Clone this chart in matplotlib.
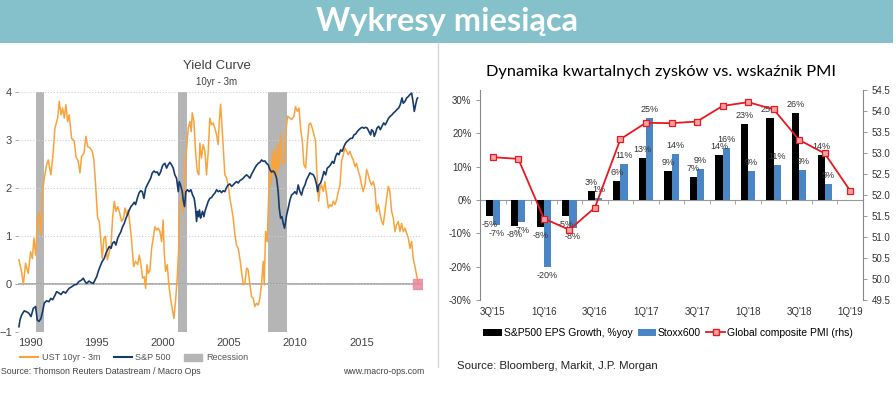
import numpy as np
import matplotlib
matplotlib.use('Agg')
import matplotlib.pyplot as plt
from matplotlib.patches import Rectangle, Patch
from matplotlib.lines import Line2D

plt.rcParams['font.family'] = ['Liberation Sans', 'DejaVu Sans']
NARROW = ['Liberation Sans Narrow', 'Liberation Sans', 'DejaVu Sans']
CALIBRI = ['Lato', 'DejaVu Sans']

# ---- lewy wykres: krzywa rentownosci ----
ust_years = [1989.17, 1989.37, 1989.50, 1989.67, 1989.87, 1990.05, 1990.18, 1990.30, 1990.43, 1990.58,
             1990.70, 1990.83, 1990.93, 1991.08, 1991.26, 1991.38, 1991.58, 1991.76, 1991.88, 1992.09,
             1992.21, 1992.34, 1992.46, 1992.59, 1992.71, 1992.84, 1992.96, 1993.14, 1993.34, 1993.47,
             1993.64, 1993.77, 1993.89, 1994.07, 1994.22, 1994.35, 1994.52, 1994.70, 1994.82, 1994.95,
             1995.10, 1995.23, 1995.35, 1995.45, 1995.58, 1995.70, 1995.83, 1995.98, 1996.11, 1996.23,
             1996.36, 1996.48, 1996.61, 1996.73, 1996.91, 1997.06, 1997.16, 1997.29, 1997.41, 1997.54,
             1997.66, 1997.81, 1997.96, 1998.12, 1998.24, 1998.37, 1998.49, 1998.62, 1998.72, 1998.82,
             1998.92, 1999.04, 1999.17, 1999.29, 1999.42, 1999.55, 1999.67, 1999.80, 1999.92, 2000.04,
             2000.12, 2000.22, 2000.35, 2000.47, 2000.60, 2000.72, 2000.85, 2000.97, 2001.10, 2001.20,
             2001.30, 2001.43, 2001.55, 2001.68, 2001.80, 2001.93, 2002.06, 2002.16, 2002.23, 2002.36,
             2002.48, 2002.61, 2002.73, 2002.81, 2002.93, 2003.06, 2003.19, 2003.31, 2003.44, 2003.56,
             2003.69, 2003.81, 2003.94, 2004.07, 2004.19, 2004.27, 2004.37, 2004.47, 2004.57, 2004.69,
             2004.82, 2004.94, 2005.07, 2005.20, 2005.32, 2005.45, 2005.57, 2005.70, 2005.82, 2005.95,
             2006.08, 2006.20, 2006.33, 2006.45, 2006.58, 2006.70, 2006.83, 2006.95, 2007.08, 2007.21,
             2007.33, 2007.46, 2007.58, 2007.66, 2007.76, 2007.88, 2007.98, 2008.08, 2008.18, 2008.29,
             2008.39, 2008.49, 2008.59, 2008.69, 2008.79, 2008.91, 2009.04, 2009.17, 2009.29, 2009.42,
             2009.60, 2009.72, 2009.90, 2010.02, 2010.15, 2010.28, 2010.40, 2010.53, 2010.65, 2010.78,
             2010.90, 2011.03, 2011.15, 2011.28, 2011.41, 2011.53, 2011.61, 2011.68, 2011.76, 2011.86,
             2011.98, 2012.11, 2012.23, 2012.36, 2012.49, 2012.61, 2012.74, 2012.86, 2012.99, 2013.11,
             2013.24, 2013.37, 2013.49, 2013.62, 2013.74, 2013.87, 2014.00, 2014.12, 2014.25, 2014.37,
             2014.50, 2014.62, 2014.75, 2014.87, 2015.00, 2015.12, 2015.25, 2015.38, 2015.50, 2015.63,
             2015.75, 2015.88, 2016.00, 2016.13, 2016.26, 2016.38, 2016.51, 2016.63, 2016.76, 2016.88,
             2017.01, 2017.13, 2017.26, 2017.39, 2017.51, 2017.64, 2017.76, 2017.89, 2018.01, 2018.14,
             2018.27, 2018.39, 2018.52, 2018.64, 2018.77, 2018.89, 2019.02, 2019.14, 2019.27]
ust_vals = [0.50, 0.26, -0.02, 0.43, 0.22, 0.67, 0.53, 0.95, 0.60, 1.37,
            1.47, 1.02, 1.85, 2.20, 2.48, 2.58, 2.27, 2.76, 3.24, 3.45,
            3.80, 3.52, 3.66, 3.45, 3.73, 3.38, 3.52, 3.03, 2.97, 2.65,
            2.55, 2.31, 2.65, 2.72, 3.07, 2.86, 2.83, 2.76, 2.58, 2.06,
            1.37, 1.30, 0.88, 0.53, 0.95, 0.99, 0.50, 0.67, 0.81, 1.37,
            1.72, 1.51, 1.61, 1.51, 1.30, 1.37, 1.58, 1.44, 1.54, 1.23,
            0.92, 0.36, 0.47, 0.40, 0.60, 0.40, 0.12, 0.15, -0.09, 0.40,
            0.22, 0.28, 0.74, 0.95, 1.19, 1.12, 1.16, 1.09, 0.88, 1.33,
            0.67, 0.26, 0.40, -0.02, -0.30, -0.51, -0.72, -0.37, 0.12, 0.67,
            1.65, 1.78, 1.51, 2.34, 2.76, 3.24, 3.38, 3.17, 3.56, 3.38,
            2.76, 2.34, 2.27, 2.93, 2.62, 2.90, 2.76, 2.27, 2.76, 3.45,
            3.31, 3.35, 3.24, 3.10, 2.90, 3.38, 3.74, 3.31, 2.83, 2.27,
            2.20, 2.06, 1.78, 1.58, 1.37, 1.02, 0.81, 0.74, 0.53, 0.26,
            -0.02, 0.01, 0.33, 0.29, -0.02, -0.26, -0.30, -0.47, -0.40, -0.44,
            -0.30, 0.01, 0.47, -0.02, 1.09, 0.88, 1.72, 2.41, 2.06, 2.76,
            2.27, 2.83, 2.13, 2.90, 2.41, 3.10, 2.48, 2.55, 3.17, 3.49,
            3.45, 3.42, 3.49, 3.69, 3.59, 3.66, 3.24, 2.97, 2.48, 2.41,
            2.90, 3.31, 3.35, 3.24, 3.10, 2.97, 2.41, 2.06, 1.72, 1.99,
            2.06, 1.92, 2.13, 1.85, 1.58, 1.65, 1.61, 1.72, 1.65, 1.75,
            1.92, 2.06, 2.55, 2.69, 2.83, 2.76, 2.69, 2.76, 2.65, 2.58,
            2.44, 2.51, 2.34, 2.24, 2.06, 1.92, 2.06, 2.38, 2.27, 2.13,
            2.06, 2.13, 1.99, 1.51, 1.65, 1.47, 1.30, 1.23, 1.51, 1.78,
            2.03, 1.92, 1.51, 1.37, 1.09, 1.23, 1.30, 1.09, 1.26, 1.09,
            1.16, 1.06, 0.95, 0.74, 0.88, 0.53, 0.36, 0.19, 0.00]

spx_years = [1989.17, 1989.25, 1989.37, 1989.57, 1989.75, 1989.92, 1990.08, 1990.25, 1990.43, 1990.55,
             1990.68, 1990.83, 1990.95, 1991.08, 1991.26, 1991.43, 1991.58, 1991.71, 1991.88, 1992.01,
             1992.19, 1992.34, 1992.51, 1992.69, 1992.84, 1992.96, 1993.14, 1993.34, 1993.52, 1993.69,
             1993.89, 1994.02, 1994.15, 1994.27, 1994.45, 1994.60, 1994.77, 1994.90, 1995.03, 1995.15,
             1995.28, 1995.45, 1995.60, 1995.73, 1995.85, 1995.98, 1996.11, 1996.23, 1996.36, 1996.48,
             1996.61, 1996.73, 1996.86, 1996.98, 1997.11, 1997.24, 1997.36, 1997.49, 1997.61, 1997.74,
             1997.86, 1997.96, 1998.09, 1998.22, 1998.34, 1998.47, 1998.59, 1998.72, 1998.84, 1998.97,
             1999.10, 1999.22, 1999.35, 1999.47, 1999.60, 1999.72, 1999.85, 1999.97, 2000.04, 2000.17,
             2000.30, 2000.42, 2000.55, 2000.67, 2000.80, 2000.92, 2001.05, 2001.18, 2001.25, 2001.35,
             2001.48, 2001.55, 2001.65, 2001.75, 2001.88, 2002.00, 2002.13, 2002.26, 2002.38, 2002.48,
             2002.56, 2002.63, 2002.71, 2002.78, 2002.86, 2002.93, 2003.01, 2003.11, 2003.19, 2003.31,
             2003.44, 2003.56, 2003.69, 2003.81, 2003.94, 2004.07, 2004.19, 2004.32, 2004.44, 2004.57,
             2004.69, 2004.82, 2004.94, 2005.07, 2005.20, 2005.32, 2005.45, 2005.57, 2005.70, 2005.82,
             2005.95, 2006.08, 2006.20, 2006.33, 2006.45, 2006.58, 2006.70, 2006.83, 2006.95, 2007.08,
             2007.21, 2007.33, 2007.46, 2007.58, 2007.71, 2007.83, 2007.96, 2008.08, 2008.21, 2008.34,
             2008.46, 2008.59, 2008.71, 2008.79, 2008.89, 2008.99, 2009.09, 2009.19, 2009.35, 2009.47,
             2009.60, 2009.72, 2009.85, 2009.97, 2010.10, 2010.22, 2010.35, 2010.47, 2010.60, 2010.73,
             2010.85, 2010.98, 2011.10, 2011.23, 2011.36, 2011.48, 2011.61, 2011.68, 2011.78, 2011.91,
             2012.03, 2012.16, 2012.29, 2012.41, 2012.54, 2012.66, 2012.79, 2012.91, 2013.04, 2013.16,
             2013.29, 2013.42, 2013.54, 2013.67, 2013.79, 2013.92, 2014.04, 2014.17, 2014.30, 2014.42,
             2014.55, 2014.67, 2014.80, 2014.92, 2015.05, 2015.17, 2015.30, 2015.43, 2015.55, 2015.68,
             2015.75, 2015.88, 2015.95, 2016.05, 2016.15, 2016.28, 2016.41, 2016.53, 2016.66, 2016.78,
             2016.91, 2017.03, 2017.16, 2017.29, 2017.41, 2017.54, 2017.66, 2017.79, 2017.91, 2018.04,
             2018.14, 2018.27, 2018.39, 2018.52, 2018.64, 2018.77, 2018.87, 2018.97, 2019.07, 2019.17,
             2019.22]
spx_vals = [-0.89, -0.75, -0.65, -0.56, -0.58, -0.61, -0.68, -0.51, -0.47, -0.75,
            -0.78, -0.72, -0.58, -0.40, -0.35, -0.37, -0.30, -0.33, -0.24, -0.16,
            -0.19, -0.22, -0.16, -0.19, -0.13, -0.09, -0.06, -0.02, -0.01, 0.05,
            0.08, 0.12, 0.05, 0.01, 0.06, 0.03, 0.01, 0.08, 0.15, 0.26,
            0.36, 0.47, 0.53, 0.64, 0.71, 0.78, 0.74, 0.85, 0.88, 0.81,
            0.95, 1.02, 1.09, 1.19, 1.26, 1.37, 1.44, 1.54, 1.61, 1.65,
            1.70, 1.65, 1.78, 1.89, 1.94, 1.92, 1.78, 1.99, 2.06, 2.13,
            2.20, 2.31, 2.35, 2.32, 2.33, 2.26, 2.33, 2.44, 2.48, 2.51,
            2.41, 2.48, 2.53, 2.48, 2.41, 2.27, 2.20, 1.92, 2.13, 2.06,
            1.92, 1.75, 1.61, 1.92, 1.96, 1.92, 1.96, 1.85, 1.78, 1.58,
            1.30, 1.51, 1.40, 1.54, 1.37, 1.44, 1.51, 1.40, 1.51, 1.61,
            1.72, 1.78, 1.80, 1.85, 1.89, 1.96, 1.92, 1.94, 1.90, 1.94,
            1.92, 2.01, 2.06, 2.08, 2.03, 2.06, 2.10, 2.13, 2.10, 2.15,
            2.17, 2.20, 2.24, 2.27, 2.24, 2.20, 2.28, 2.35, 2.41, 2.47,
            2.51, 2.53, 2.58, 2.55, 2.56, 2.51, 2.48, 2.38, 2.33, 2.35,
            2.31, 2.20, 1.92, 1.58, 1.37, 1.40, 1.26, 1.16, 1.44, 1.58,
            1.75, 1.85, 1.88, 1.92, 1.87, 2.06, 1.92, 1.85, 1.99, 2.06,
            2.17, 2.24, 2.31, 2.29, 2.27, 2.20, 2.06, 1.92, 2.06, 2.10,
            2.20, 2.34, 2.27, 2.41, 2.44, 2.48, 2.55, 2.51, 2.65, 2.72,
            2.69, 2.79, 2.76, 2.86, 2.93, 2.97, 3.00, 3.03, 3.03, 3.10,
            3.12, 3.17, 3.21, 3.24, 3.26, 3.24, 3.26, 3.24, 3.17, 3.10,
            3.21, 3.17, 3.07, 3.14, 3.24, 3.28, 3.21, 3.28, 3.35, 3.31,
            3.38, 3.45, 3.49, 3.52, 3.56, 3.59, 3.63, 3.66, 3.73, 3.87,
            3.76, 3.80, 3.87, 3.90, 3.94, 3.97, 3.80, 3.59, 3.73, 3.85,
            3.87]

rec_start = [1990.45, 2001.15, 2007.93]
rec_end = [1991.08, 2001.83, 2009.38]
year_ticks = [1990, 1995, 2000, 2005, 2010, 2015]

# ---- prawy wykres: zyski vs PMI ----
quarters = ["3Q'15", "4Q'15", "1Q'16", "2Q'16", "3Q'16", "4Q'16", "1Q'17", "2Q'17",
            "3Q'17", "4Q'17", "1Q'18", "2Q'18", "3Q'18", "4Q'18", "1Q'19"]
sp500_eps = [-4.9, -7.9, -8.2, -4.7, 2.6, 5.6, 12.6, 8.6, 6.8, 13.6, 22.8, 24.6, 26.1, 13.6]
stoxx600_eps = [-7.4, -6.6, -20.0, -8.4, 0.6, 10.8, 24.6, 13.8, 9.2, 15.6, 8.8, 10.6, 9.1, 4.7]
pmi = [52.90, 52.86, 51.44, 51.17, 51.70, 53.33, 53.72, 53.71, 53.75, 54.12, 54.21, 54.04, 53.31, 52.99, 52.10]

ORANGE = '#F9A33B'
NAVY = '#163C6E'
REC = '#B5B5B5'
BLUE = '#4A86C6'
RED = '#E8191F'
PINK = '#F5A3A3'

W, H = 896, 399
fig = plt.figure(figsize=(W / 100, H / 100), dpi=100)


def fx(px):
    return px / W


def fy(py):
    return 1 - py / H


# naglowek
fig.add_artist(Rectangle((0, fy(43)), fx(893), 43 / H, transform=fig.transFigure,
                         facecolor='#85C1CA', edgecolor='none'))
fig.text(fx(447), fy(21), 'Wykresy miesiąca', ha='center', va='center', color='white',
         fontsize=23.5, fontweight='bold', family=CALIBRI)
fig.add_artist(Line2D([fx(437.5), fx(437.5)], [fy(43), fy(367)], transform=fig.transFigure,
                      color='#d8d8d8', lw=1))

# ---- lewy ----
axL = fig.add_axes([fx(18), fy(332), fx(422) - fx(18), (332 - 91.7) / H])
axL.set_xlim(1989.1, 2019.55)
axL.set_ylim(-1, 4)
for s in axL.spines.values():
    s.set_visible(False)
axL.set_yticks([-1, 0, 1, 2, 3, 4])
axL.set_xticks(year_ticks)
axL.grid(axis='y', ls=':', color='#cfcfcf', lw=0.8)
axL.tick_params(axis='y', length=2.5, width=0.6, color='#999999', labelsize=8,
                labelcolor='#444444', pad=2)
axL.tick_params(axis='x', length=0, labelsize=8, labelcolor='#444444', pad=4)
for s, e in zip(rec_start, rec_end):
    axL.axvspan(s, e, color=REC, lw=0, zorder=1)
axL.axhline(0, color='#a8a8a8', lw=1.3, zorder=1.5)
axL.plot(ust_years, ust_vals, color=ORANGE, lw=1.1, zorder=3)
axL.plot(spx_years, spx_vals, color=NAVY, lw=1.2, zorder=4)
axL.plot(ust_years[-1], ust_vals[-1], marker='s', ms=7, color='#E8899A', alpha=0.85, zorder=5)

fig.text(fx(217), fy(66), 'Yield Curve', ha='center', va='center', fontsize=9.5, color='#404040')
fig.text(fx(217), fy(82), '10yr - 3m', ha='center', va='center', fontsize=7, color='#404040')

hL = [Line2D([], [], color=ORANGE, lw=1.5), Line2D([], [], color=NAVY, lw=1.5), Patch(color=REC)]
fig.legend(hL, ['UST 10yr - 3m', 'S&P 500', 'Recession'], loc='center left',
           bbox_to_anchor=(fx(20), fy(358)), ncol=3, frameon=False, fontsize=6.5,
           handlelength=2.0, handletextpad=0.4, columnspacing=1.5, borderpad=0,
           borderaxespad=0, labelcolor='#555555')
fig.text(fx(1), fy(371), 'Source: Thomson Reuters Datastream / Macro Ops', fontsize=6.3,
         color='#444444', va='center', ha='left')
fig.text(fx(424), fy(371), 'www.macro-ops.com', fontsize=6.3, color='#444444',
         va='center', ha='right')

# ---- prawy ----
axR = fig.add_axes([fx(480), fy(300), fx(863) - fx(480), 210 / H])
x = np.arange(len(quarters))
n = len(sp500_eps)
axR.bar(x[:n] - 0.14, sp500_eps, width=0.28, color='black', zorder=2)
axR.bar(x[:n] + 0.14, stoxx600_eps, width=0.28, color=BLUE, zorder=2)
axR.set_xlim(-0.5, 14.5)
axR.set_ylim(-30, 33)
axR.set_yticks(range(-30, 31, 10))
axR.set_yticklabels([f'{v}%' for v in range(-30, 31, 10)], family=NARROW)
axR.set_xticks(x[::2])
axR.set_xticklabels(quarters[::2], family=NARROW)
axR.tick_params(axis='x', length=0, labelsize=7, labelcolor='#333333', pad=5)
axR.tick_params(axis='y', length=3, width=0.6, color='#888888', labelsize=7,
                labelcolor='#333333', pad=3)
for k in ['top', 'bottom', 'right']:
    axR.spines[k].set_visible(False)
axR.spines['left'].set_color('#888888')

zero = axR.secondary_xaxis(30 / 63)
zero.set_xticks(x[:-1] + 0.5)
zero.tick_params(axis='x', length=3, width=0.6, color='#999999', labelbottom=False, direction='out')
zero.spines['bottom'].set_color('#999999')

for i in range(n):
    for val, off in ((sp500_eps[i], -0.14), (stoxx600_eps[i], 0.14)):
        lab = f'{int(np.round(val))}%'
        if val >= 0:
            axR.text(i + off, val + 1.2, lab, ha='center', va='bottom', fontsize=6.5,
                     family=NARROW, color='#333333', zorder=5)
        else:
            axR.text(i + off, val - 1.2, lab, ha='center', va='top', fontsize=6.5,
                     family=NARROW, color='#333333', zorder=5)

ax2 = axR.twinx()
ax2.set_ylim(49.5, 54.5)
ax2.set_yticks(np.arange(49.5, 54.51, 0.5))
ax2.set_yticklabels([f'{v:.1f}' for v in np.arange(49.5, 54.51, 0.5)], family=NARROW)
ax2.tick_params(axis='y', length=3, width=0.6, color='#888888', labelsize=7,
                labelcolor='#333333', pad=3)
for k in ['top', 'bottom', 'left']:
    ax2.spines[k].set_visible(False)
ax2.spines['right'].set_color('#888888')
ax2.plot(x, pmi, color=RED, lw=1.3, marker='s', ms=5, mfc=PINK, mec=RED, mew=0.9, zorder=6)

fig.text(fx(661), fy(72), 'Dynamika kwartalnych zysków vs. wskaźnik PMI', ha='center',
         va='center', fontsize=11.8, color='black', family=CALIBRI)

hR = [Patch(facecolor='black'), Patch(facecolor=BLUE),
      Line2D([], [], color=RED, lw=1.3, marker='s', ms=4, mfc=PINK, mec=RED)]
fig.legend(hR, ['S&P500 EPS Growth, %yoy', 'Stoxx600', 'Global composite PMI (rhs)'],
           loc='center', bbox_to_anchor=(fx(668), fy(333)), ncol=3, frameon=False,
           prop={'family': NARROW, 'size': 7.5}, handlelength=1.8, handletextpad=0.15,
           columnspacing=0.5, borderpad=0, borderaxespad=0)
fig.text(fx(457), fy(366), 'Source: Bloomberg, Markit, J.P. Morgan', ha='left', va='center',
         fontsize=8.2, family=NARROW, color='#222222')

fig.savefig('out.png', dpi=100)
